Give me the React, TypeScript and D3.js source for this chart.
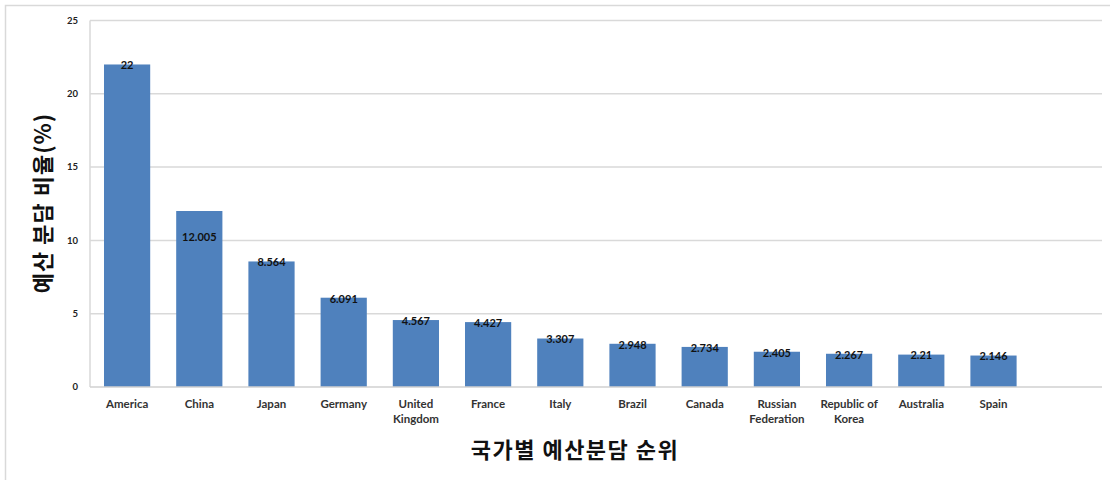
import React from "react";
import * as d3 from "d3";

const categories: string[][] = [
  ["America"],
  ["China"],
  ["Japan"],
  ["Germany"],
  ["United", "Kingdom"],
  ["France"],
  ["Italy"],
  ["Brazil"],
  ["Canada"],
  ["Russian", "Federation"],
  ["Republic of", "Korea"],
  ["Australia"],
  ["Spain"],
];
const values: number[] = [22, 12.005, 8.564, 6.091, 4.567, 4.427, 3.307, 2.948, 2.734, 2.405, 2.267, 2.21, 2.146];
const valueLabels: string[] = ["22", "12.005", "8.564", "6.091", "4.567", "4.427", "3.307", "2.948", "2.734", "2.405", "2.267", "2.21", "2.146"];
const yTicks: number[] = [0, 5, 10, 15, 20, 25];
const yTitle = "예산 분담 비율(%)";
const xTitle = "국가별 예산분담 순위";

const W = 1110;
const H = 480;
const plotLeft = 90;
const plotRight = 1102;
const plotTop = 20.5;
const plotBottom = 387;
const step = 72.2;

export default function App() {
  const keys = categories.map((c) => c.join(" "));
  const x = d3
    .scaleBand<string>()
    .domain(keys)
    .range([plotLeft + 1, plotLeft + 1 + step * keys.length])
    .paddingInner(0.36)
    .paddingOuter(0.18);
  const y = d3.scaleLinear().domain([0, 25]).range([plotBottom, plotTop]);
  const font = "Lato, 'Liberation Sans', Arial, sans-serif";
  const kfont = "'Noto Sans CJK KR', 'Noto Sans CJK SC', sans-serif";

  return (
    <svg
      width={W}
      height={H}
      style={{ position: "absolute", left: 0, top: 0, background: "#fff" }}
    >
      <rect x={5.5} y={5.5} width={W + 10} height={H + 10} fill="#fff" stroke="#d9d9d9" strokeWidth={1.5} />
      {yTicks.map((t) => (
        <g key={t}>
          {t > 0 && (
            <line x1={plotLeft} x2={plotRight} y1={y(t)} y2={y(t)} stroke="#d9d9d9" strokeWidth={1.5} />
          )}
          <text
            x={78}
            y={y(t)}
            dy="0.35em"
            textAnchor="end"
            fontFamily={font}
            fontWeight="bold"
            fontSize={9.5}
            fill="#222"
          >
            {t}
          </text>
        </g>
      ))}
      <line x1={plotLeft} x2={plotLeft} y1={plotTop} y2={plotBottom} stroke="#d9d9d9" strokeWidth={1.5} />
      {keys.map((k, i) => (
        <rect
          key={k}
          x={x(k)}
          y={y(values[i])}
          width={x.bandwidth()}
          height={y(0) - y(values[i])}
          fill="#4f81bd"
        />
      ))}
      <line x1={plotLeft} x2={plotRight} y1={plotBottom} y2={plotBottom} stroke="#d0d0d0" strokeWidth={1.5} />
      {keys.map((k, i) => (
        <text
          key={"v" + k}
          x={(x(k) as number) + x.bandwidth() / 2}
          y={y(values[i]) + (i === 1 ? 26 : 1)}
          dy="0.35em"
          textAnchor="middle"
          fontFamily={font}
          fontWeight="bold"
          fontSize={11}
          fill="#111"
        >
          {valueLabels[i]}
        </text>
      ))}
      {keys.map((k, i) => (
        <text
          key={"c" + k}
          x={(x(k) as number) + x.bandwidth() / 2}
          y={404}
          textAnchor="middle"
          fontFamily={font}
          fontWeight="bold"
          fontSize={11.5}
          fill="#333"
        >
          {categories[i].map((line, j) => (
            <tspan key={j} x={(x(k) as number) + x.bandwidth() / 2} dy={j === 0 ? "0.35em" : 15}>
              {line}
            </tspan>
          ))}
        </text>
      ))}
      <text
        transform={`translate(43,203) rotate(-90)`}
        textAnchor="middle"
        dy="0.35em"
        fontFamily={kfont}
        fontWeight="bold"
        fontSize={22}
        letterSpacing={1}
        fill="#111"
      >
        {yTitle}
      </text>
      <text
        x={575}
        y={450}
        dy="0.35em"
        textAnchor="middle"
        fontFamily={kfont}
        fontWeight="bold"
        fontSize={22}
        letterSpacing={1.5}
        fill="#111"
      >
        {xTitle}
      </text>
    </svg>
  );
}
